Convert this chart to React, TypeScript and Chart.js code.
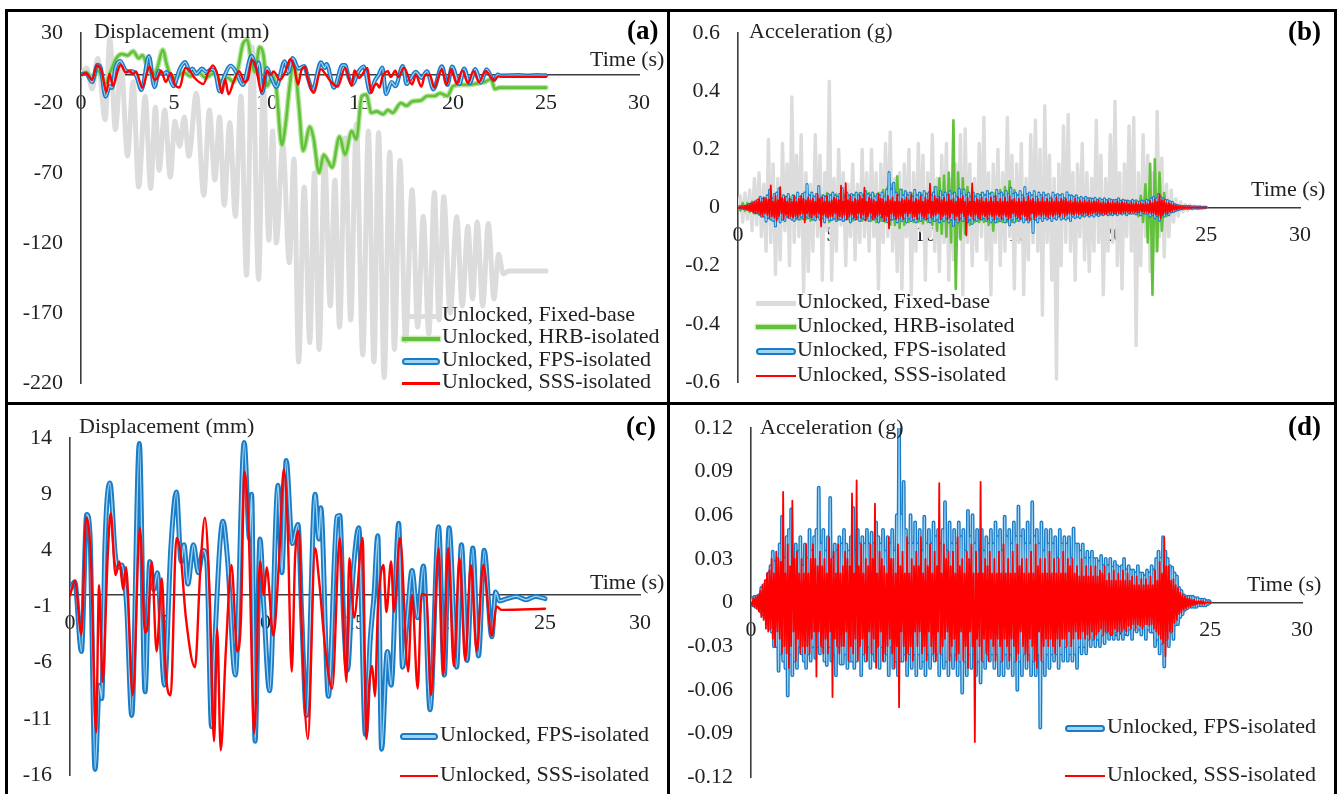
import React, { useEffect, useRef } from "react";
import { Chart, registerables } from "chart.js";

Chart.register(...registerables);

const FONT = "'Liberation Serif', 'Times New Roman', Times, serif";
const TXT = "#222222";
const AXIS = "#3c3c3c";

// ---------- tick labels ----------
const xTicks = [0, 5, 10, 15, 20, 25, 30];
const yTicksA = [-220, -170, -120, -70, -20, 30];
const yTicksB = [-0.6, -0.4, -0.2, 0, 0.2, 0.4, 0.6];
const yTicksC = [-16, -11, -6, -1, 4, 9, 14];
const yTicksD = [-0.12, -0.09, -0.06, -0.03, 0, 0.03, 0.06, 0.09, 0.12];

// ---------- displacement series [time s, mm] ----------
const fixedDisp = [
  [0, 0], [0.3, 5], [0.6, -10], [0.9, 12], [1.3, -32], [1.55, 26], [1.85, -39], [2.15, 10], [2.5, -58],
  [2.8, -5], [3.1, -80], [3.45, -15], [3.75, -81], [4.0, -23], [4.2, -68], [4.5, -25], [4.8, -73],
  [5.05, -33], [5.3, -51], [5.55, -30], [5.8, -58], [6.2, -13], [6.6, -86], [6.9, -25], [7.2, -75],
  [7.45, -30], [7.7, -93], [8.0, -34], [8.3, -101], [8.6, -15], [8.9, -143], [9.2, 20], [9.55, -146],
  [9.8, -5], [10.1, -118], [10.3, -40], [10.5, -120], [10.85, -50], [11.2, -134], [11.45, -60],
  [11.7, -205], [12.0, -80], [12.3, -191], [12.55, -70], [12.8, -196], [13.1, -60], [13.4, -165],
  [13.65, -75], [13.9, -180], [14.2, -45], [14.5, -175], [14.8, -35], [15.15, -200], [15.45, -40],
  [15.75, -205], [16.0, -41], [16.3, -216], [16.6, -55], [16.85, -196], [17.15, -61], [17.45, -190],
  [17.8, -82], [18.1, -180], [18.4, -101], [18.7, -185], [19.0, -84], [19.25, -175], [19.5, -87],
  [19.85, -170], [20.2, -101], [20.5, -165], [20.8, -108], [21.05, -160], [21.3, -105], [21.6, -165],
  [21.9, -106], [22.2, -160], [22.45, -128], [22.7, -142], [23.0, -140], [25.0, -140],
];

const hrbDisp = [
  [0, 0], [0.3, 2], [0.6, -3], [0.9, 3], [1.3, -6], [1.6, 3], [1.9, 12], [2.2, 15], [2.5, 14], [2.8, 17],
  [3.1, 12], [3.3, 14], [3.6, 5], [3.9, 0], [4.1, 5], [4.4, 18], [4.6, 8], [4.8, 0], [5.1, -2], [5.5, 2],
  [5.9, -1], [6.3, 2], [6.7, -2], [7.1, 1], [7.5, -4], [7.9, -2], [8.2, -5], [8.45, 5], [8.7, 22],
  [8.95, 25], [9.15, 10], [9.35, 2], [9.6, 20], [9.8, 15], [10.0, -8], [10.3, 0], [10.5, -10],
  [10.8, -50], [11.0, -35], [11.2, -10], [11.45, 10], [11.7, -20], [11.95, -54], [12.3, -37],
  [12.5, -45], [12.8, -70], [13.05, -57], [13.3, -62], [13.5, -66], [13.9, -44], [14.2, -57],
  [14.55, -40], [14.8, -46], [15.1, -15], [15.35, -14], [15.6, -27], [15.9, -26], [16.25, -28],
  [16.5, -25], [16.75, -27], [17.2, -20], [17.5, -22], [17.8, -19], [18.3, -18], [18.6, -15],
  [19.0, -15], [19.3, -13], [19.7, -15], [20.0, -8], [20.4, -7], [20.8, -7], [21.3, -6], [21.7, -5],
  [22.05, -3], [22.25, -10], [22.5, -9], [25.0, -9],
];

const fpsDisp = [
  [0, 0.5], [0.25, 1.2], [0.6, -5], [0.88, 7.2], [1.05, 5.5], [1.32, -15.5], [1.55, -8], [1.67, -9.2],
  [1.84, 4.5], [2.1, 10], [2.4, 3.3], [2.6, 2.5], [2.72, 2.7], [2.98, -0.9], [3.25, -10.7], [3.65, 13.5],
  [3.95, -8.6], [4.2, 3], [4.4, 0.5], [4.6, 2], [4.97, -8], [5.3, 4], [5.6, 9.2], [5.85, 3], [6.0, 4.5],
  [6.2, 1], [6.5, 4.5], [6.75, 2], [7.0, 4], [7.2, 3], [7.45, -11.7], [7.6, -5], [8.05, 6.6], [8.3, 3],
  [8.7, -7.1], [9.17, 13.6], [9.45, 5], [9.56, 9], [9.74, -13], [10.0, 5], [10.2, -1], [10.5, -8.5],
  [10.95, 9.8], [11.15, 2], [11.38, 12], [11.7, 4.6], [12.0, 6.3], [12.2, -2], [12.45, -10.7], [12.9, 9],
  [13.1, 5], [13.2, 7.8], [13.6, -9], [14.05, 7], [14.2, 7.1], [14.4, -2], [14.6, -6.7], [14.9, 2],
  [15.2, 6], [15.55, -12.4], [15.8, -4], [16.0, 0], [16.2, 5.3], [16.4, -13.7], [16.7, -5], [16.9, -8],
  [17.3, 6.4], [17.5, -6.4], [17.75, -2], [18.0, 2.2], [18.3, -2], [18.6, 2.6], [18.95, -10.2],
  [19.4, 6.1], [19.7, -7.1], [19.95, 6], [20.35, -6.4], [20.6, 4.5], [20.9, -5.8], [21.2, 4.2],
  [21.5, -5.4], [21.8, 4], [22.2, -3.7], [22.4, 0.3], [22.6, -0.5], [23.0, -0.3], [23.5, -0.1],
  [24.0, -0.4], [24.5, -0.1], [25.0, -0.3],
];

const sssDisp = [
  [0, 0], [0.26, 1.3], [0.6, -3.5], [0.85, 6.9], [1.1, 3.3], [1.37, -12.2], [1.53, 0.9], [1.72, -7.7],
  [1.98, 3.3], [2.14, 7.3], [2.4, 1.8], [2.6, 3], [2.8, 0.5], [2.95, 2.5], [3.3, -8.9], [3.68, 6],
  [3.95, -3.3], [4.1, -2.5], [4.3, 3], [4.56, -5], [4.83, 1.5], [5.05, -7.1], [5.3, -8.9], [5.6, 5.1],
  [5.8, 4], [6.1, -2], [6.58, -6.4], [6.85, 2], [7.1, 6.9], [7.35, 0], [7.58, -13], [7.75, -3],
  [7.93, -13.8], [8.2, -5], [8.5, 2.7], [8.8, -5], [9.0, -2], [9.18, 11], [9.4, 6], [9.7, -12.3],
  [10.0, 3], [10.2, 0], [10.35, 2.5], [10.7, -3.6], [11.0, 3], [11.25, 11.2], [11.45, 6.3], [11.67, -6.8],
  [11.85, 3.5], [12.05, 5.7], [12.2, -3], [12.52, -12.8], [12.9, 4.2], [13.1, 1.5], [13.45, -5],
  [13.8, -8.3], [14.2, 5.1], [14.55, -7.7], [14.7, 3.3], [14.95, -2], [15.4, 5.1], [15.6, -12.8],
  [15.75, -8], [15.9, -6.3], [16.05, -9], [16.2, -1.5], [16.5, 2.7], [16.65, -1.5], [16.9, 3],
  [17.05, -1.5], [17.37, 5.1], [17.8, -6.8], [18.0, 0], [18.3, -8.3], [18.5, 0.1], [18.75, 0],
  [19.0, -8.9], [19.4, 4.2], [19.65, -7.1], [19.9, 4.2], [20.2, -6.3], [20.5, 3.3], [20.8, -5.8],
  [21.1, 2.7], [21.4, -5], [21.75, 2.7], [22.2, -3.6], [22.45, -1], [22.7, -1.3], [25.0, -1.2],
];

// ---------- acceleration series (g) ----------
// fixed-base and HRB: one value every 0.125 s (8 per row = 1 s)
const DT_COARSE = 0.125;
const fixedAcc = [
  0, 0.04, -0.05, 0.05, -0.04, 0.06, -0.08, 0.1,
  -0.06, 0.12, -0.1, 0.08, -0.15, 0.234, -0.12, 0.15,
  -0.23, 0.1, -0.18, 0.22, -0.08, 0.15, -0.2, 0.38,
  -0.12, 0.18, -0.1, 0.25, -0.29, 0.12, -0.22, 0.08,
  -0.15, 0.25, -0.1, 0.18, -0.25, 0.12, -0.08, 0.434,
  -0.25, 0.1, -0.15, 0.2, -0.06, 0.12, -0.2, 0.08,
  -0.1, 0.15, -0.18, 0.08, -0.12, 0.2, -0.1, 0.12,
  -0.15, 0.2, -0.1, 0.12, -0.28, 0.15, -0.12, 0.22,
  -0.1, 0.26, -0.15, 0.1, -0.22, 0.12, -0.28, 0.15,
  -0.1, 0.2, -0.3, 0.12, -0.15, 0.22, -0.08, 0.18,
  -0.25, 0.12, -0.1, 0.25, -0.15, 0.1, -0.22, 0.18,
  -0.12, 0.22, -0.25, 0.1, -0.18, 0.15, -0.1, 0.25,
  -0.3, 0.27, -0.12, 0.15, -0.2, 0.1, -0.15, 0.22,
  -0.1, 0.31, -0.18, 0.12, -0.3, 0.15, -0.12, 0.2,
  -0.2, 0.12, -0.15, 0.31, -0.1, 0.18, -0.28, 0.15,
  -0.12, 0.22, -0.3, 0.1, -0.18, 0.25, -0.12, 0.3,
  -0.15, 0.2, -0.37, 0.35, -0.12, 0.18, -0.25, 0.1,
  -0.59, 0.15, -0.2, 0.28, -0.12, 0.32, -0.15, 0.12,
  -0.25, 0.15, -0.1, 0.22, -0.18, 0.12, -0.22, 0.1,
  -0.15, 0.3, -0.12, 0.18, -0.3, 0.1, -0.15, 0.25,
  -0.12, 0.365, -0.2, 0.12, -0.28, 0.15, -0.1, 0.28,
  -0.15, 0.31, -0.475, 0.12, -0.2, 0.25, -0.1, 0.18,
  -0.22, 0.12, -0.15, 0.33, -0.1, 0.17, -0.17, 0.08,
  -0.1, 0.06, -0.05, 0.03, -0.03, 0.02, -0.015, 0.01,
  -0.01, 0.008, -0.006, 0.005, -0.004, 0.003, -0.002, 0.001,
  0,
];

const hrbAcc = [
  0, -0.01, 0.015, -0.012, 0.015, -0.015, 0.02, -0.02,
  0.025, -0.025, 0.03, -0.03, 0.03, -0.035, 0.035, -0.03,
  0.035, -0.035, 0.03, -0.035, 0.035, -0.03, 0.035, -0.035,
  0.04, -0.04, 0.035, -0.04, 0.045, -0.04, 0.04, -0.045,
  0.04, -0.04, 0.045, -0.04, 0.04, -0.045, 0.05, -0.05,
  0.045, -0.04, 0.045, -0.04, 0.04, -0.045, 0.045, -0.04,
  0.04, -0.045, 0.045, -0.04, 0.05, -0.045, 0.045, -0.04,
  0.05, -0.045, 0.045, -0.05, 0.05, -0.045, 0.06, -0.05,
  0.07, -0.06, 0.08, -0.06, 0.107, -0.07, 0.06, -0.06,
  0.05, -0.05, 0.05, -0.05, 0.045, -0.05, 0.05, -0.055,
  0.05, -0.05, 0.055, -0.06, 0.07, -0.08, 0.1, -0.09,
  0.11, -0.1, 0.12, -0.12, 0.3, -0.28, 0.12, -0.11,
  0.1, -0.09, 0.07, -0.06, 0.05, -0.05, 0.045, -0.05,
  0.05, -0.05, 0.045, -0.06, 0.05, -0.08, 0.05, -0.05,
  0.06, -0.05, 0.07, -0.05, 0.09, -0.05, 0.06, -0.045,
  0.045, -0.04, 0.04, -0.04, 0.045, -0.04, 0.04, -0.04,
  0.035, -0.035, 0.035, -0.035, 0.035, -0.03, 0.035, -0.035,
  0.03, -0.03, 0.035, -0.03, 0.03, -0.03, 0.03, -0.03,
  0.03, -0.025, 0.03, -0.03, 0.025, -0.025, 0.03, -0.025,
  0.025, -0.025, 0.025, -0.025, 0.025, -0.02, 0.025, -0.025,
  0.02, -0.02, 0.025, -0.02, 0.02, -0.02, 0.02, -0.02,
  0.02, -0.02, 0.025, -0.03, 0.04, -0.05, 0.08, -0.12,
  0.15, -0.3, 0.166, -0.15, 0.12, -0.08, 0.05, -0.03,
  0.02, -0.015, 0.01, -0.008, 0.005, -0.004, 0.003, -0.002,
  0.002, -0.001, 0.001, 0, 0, 0, 0, 0,
  0,
];

// FPS and SSS: one value every 0.0625 s (16 per row = 1 s)
const DT_FINE = 0.0625;
const fpsAcc = [
  0, .003, -.002, .004, -.003, .004, -.004, .005, -.006, .01, -.008, .012, -.01, .015, -.014, .02,
  -.018, .025, -.02, .035, -.03, .028, -.03, .03, -.047, .04, -.035, .059, -.04, .03, -.045, .045,
  -.064, .05, -.035, .064, -.05, .03, -.04, .04, -.045, .035, -.03, .045, -.035, .025, -.04, .04,
  -.045, .03, -.035, .05, -.04, .035, -.03, .045, -.038, .05, -.03, .079, -.035, .04, -.03, .05,
  -.04, .035, -.043, .045, -.03, .072, -.04, .03, -.035, .04, -.05, .035, -.03, .045, -.042, .04,
  -.042, .05, -.035, .04, -.045, .035, -.04, .045, -.04, .065, -.045, .035, -.04, .05, -.03, .04,
  -.05, .045, -.035, .04, -.04, .05, -.03, .04, -.045, .048, -.035, .04, -.04, .055, -.03, .045,
  -.045, .04, -.03, .05, -.04, .035, -.035, .045, -.05, .04, -.03, .05, -.045, .035, -.04, .06,
  -.05, .12, -.04, .06, -.04, .083, -.035, .05, -.05, .04, -.035, .06, -.045, .04, -.035, .055,
  -.05, .04, -.035, .05, -.045, .035, -.04, .059, -.05, .04, -.035, .05, -.045, .04, -.035, .055,
  -.04, .045, -.035, .05, -.05, .04, -.035, .05, -.045, .069, -.04, .035, -.05, .055, -.035, .04,
  -.045, .05, -.035, .04, -.05, .055, -.04, .045, -.062, .05, -.04, .035, -.05, .063, -.035, .045,
  -.045, .06, -.035, .04, -.05, .05, -.04, .035, -.055, .05, -.04, .035, -.045, .045, -.035, .04,
  -.04, .05, -.035, .04, -.045, .055, -.035, .045, -.05, .05, -.04, .035, -.05, .059, -.035, .045,
  -.045, .05, -.035, .04, -.05, .055, -.04, .045, -.06, .066, -.04, .045, -.05, .05, -.035, .04,
  -.045, .055, -.035, .04, -.05, .069, -.04, .045, -.05, .05, -.035, .04, -.086, .055, -.04, .035,
  -.05, .05, -.035, .04, -.045, .05, -.035, .04, -.04, .045, -.035, .03, -.045, .05, -.035, .04,
  -.04, .045, -.03, .04, -.04, .045, -.035, .03, -.04, .051, -.035, .04, -.045, .04, -.03, .035,
  -.035, .04, -.03, .03, -.035, .035, -.025, .03, -.03, .035, -.025, .03, -.03, .03, -.025, .028,
  -.03, .032, -.022, .025, -.028, .03, -.02, .025, -.025, .03, -.02, .024, -.025, .028, -.02, .025,
  -.025, .024, -.02, .025, -.025, .03, -.018, .022, -.022, .025, -.018, .022, -.025, .022, -.018, .02,
  -.02, .025, -.018, .02, -.022, .02, -.015, .018, -.025, .022, -.018, .02, -.02, .025, -.02, .022,
  -.03, .03, -.025, .035, -.035, .03, -.028, .045, -.044, .035, -.025, .03, -.03, .025, -.02, .024,
  -.025, .02, -.015, .018, -.015, .01, -.01, .008, -.008, .005, -.005, .004, -.004, .004, -.003, .004,
  -.003, .004, -.003, .003, -.003, .003, -.002, .002, -.002, .002, -.002, .002, -.002, .001, -.001, .001,
  0,
];

const sssAcc = [
  0, -.002, .003, -.003, .004, -.004, .005, -.006, .008, -.01, .012, -.012, .015, -.018, .02, -.02,
  .022, -.018, .03, -.025, .02, -.03, .035, -.02, .03, -.025, .028, -.035, .076, -.03, .02, -.035,
  .04, -.045, .025, -.03, .07, -.02, .03, -.04, .035, -.025, .02, -.035, .03, -.03, .02, -.035,
  .04, -.03, .02, -.035, .03, -.025, .04, -.02, .03, -.051, .025, -.02, .035, -.03, .025, -.035,
  .03, -.025, .02, -.035, .045, -.02, .03, -.065, .035, -.025, .02, -.03, .04, -.035, .02, -.03,
  .025, -.03, .035, -.02, .03, -.04, .025, -.03, .075, -.035, .02, -.025, .084, -.04, .025, -.03,
  .04, -.025, .02, -.035, .03, -.04, .025, -.02, .04, -.035, .03, -.025, .068, -.045, .02, -.03,
  .035, -.02, .03, -.04, .025, -.035, .02, -.03, .045, -.025, .03, -.035, .03, -.045, .02, -.03,
  .04, -.072, .025, -.02, .035, -.03, .02, -.04, .045, -.035, .02, -.03, .03, -.04, .025, -.02,
  .035, -.03, .025, -.02, .045, -.035, .02, -.03, .03, -.04, .025, -.02, .04, -.03, .02, -.035,
  .035, -.04, .025, -.02, .082, -.035, .02, -.03, .04, -.025, .03, -.02, .035, -.04, .025, -.03,
  .035, -.025, .02, -.04, .045, -.035, .025, -.02, .03, -.04, .02, -.03, .035, -.045, .03, -.02,
  .04, -.03, .02, -.096, .035, -.025, .02, -.03, .083, -.04, .02, -.025, .03, -.035, .025, -.04,
  .035, -.025, .02, -.03, .03, -.04, .02, -.025, .035, -.03, .02, -.04, .04, -.025, .02, -.03,
  .03, -.04, .02, -.025, .035, -.03, .02, -.04, .04, -.035, .025, -.02, .03, -.03, .02, -.035,
  .03, -.04, .02, -.025, .035, -.03, .02, -.04, .04, -.045, .025, -.02, .03, -.04, .02, -.03,
  .03, -.025, .02, -.03, .035, -.025, .02, -.03, .03, -.035, .02, -.025, .03, -.03, .02, -.025,
  .035, -.025, .02, -.03, .03, -.02, .025, -.03, .03, -.025, .02, -.02, .025, -.025, .018, -.025,
  .03, -.02, .018, -.025, .025, -.022, .018, -.025, .025, -.02, .018, -.025, .025, -.022, .018, -.02,
  .022, -.018, .02, -.022, .025, -.02, .015, -.02, .02, -.022, .015, -.022, .022, -.018, .015, -.02,
  .02, -.02, .015, -.02, .022, -.018, .015, -.02, .02, -.016, .015, -.018, .018, -.015, .012, -.018,
  .018, -.015, .012, -.016, .016, -.018, .012, -.015, .016, -.015, .012, -.016, .018, -.015, .012, -.018,
  .022, -.02, .015, -.022, .028, -.025, .02, -.028, .045, -.037, .025, -.025, .025, -.02, .015, -.02,
  .016, -.014, .012, -.012, .01, -.008, .007, -.007, .005, -.005, .004, -.004, .003, -.003, .003, -.003,
  .002, -.002, .002, -.002, .001, -.001, .001, -.001, .001, -.001, .001, -.001, 0, 0, 0, 0,
  0,
];

// ---------- styles ----------
const C_GRAY = "#dcdcdc";
const C_GREEN = "#62c13b";
const C_GREEN_GLOW = "#b3e39a";
const C_BLUE = "#1a7cc6";
const C_BLUE_IN = "#9fd4f3";
const C_RED = "#ff0000";

const pairsXY = (p: number[][]) => p.map(([x, y]) => ({ x, y }));
const stepXY = (v: number[], dt: number) => v.map((y, i) => ({ x: i * dt, y }));

function line(data: any[], color: string, width: number, order: number, smooth: boolean) {
  return {
    data,
    borderColor: color,
    backgroundColor: color,
    borderWidth: width,
    pointRadius: 0,
    fill: false,
    order,
    borderJoinStyle: "round" as const,
    borderCapStyle: "round" as const,
    cubicInterpolationMode: smooth ? ("monotone" as const) : ("default" as const),
    tension: 0,
  };
}

type PanelSpec = {
  left: number; top: number; width: number; height: number;
  yMin: number; yMax: number; yTicks: number[];
  yWidth: number; pad: { left: number; right: number; top: number; bottom: number };
  datasets: any[];
};

function ChartPanel({ spec }: { spec: PanelSpec }) {
  const ref = useRef<HTMLCanvasElement | null>(null);
  useEffect(() => {
    if (!ref.current) return;
    const tickFont = { family: FONT, size: 22 };
    const chart = new Chart(ref.current, {
      type: "line",
      data: { datasets: spec.datasets },
      options: {
        animation: false,
        responsive: false,
        maintainAspectRatio: false,
        events: [],
        layout: { padding: spec.pad },
        plugins: { legend: { display: false }, tooltip: { enabled: false } },
        scales: {
          x: {
            type: "linear",
            min: 0,
            max: 30,
            position: { y: 0 } as any,
            grid: { display: false, drawTicks: false },
            border: { display: true, color: AXIS, width: 1.6 },
            afterBuildTicks: (s: any) => { s.ticks = xTicks.map((v) => ({ value: v })); },
            afterFit: (s: any) => { s.paddingLeft = 0; s.paddingRight = 0; },
            ticks: {
              color: TXT, font: tickFont, padding: 15, maxRotation: 0, autoSkip: false,
              callback: (v: any) => String(v),
            },
          },
          y: {
            type: "linear",
            position: "left",
            min: spec.yMin,
            max: spec.yMax,
            afterFit: (s: any) => { s.width = spec.yWidth; s.paddingTop = 0; s.paddingBottom = 0; },
            afterBuildTicks: (s: any) => { s.ticks = spec.yTicks.map((v) => ({ value: v })); },
            grid: { display: false, drawTicks: false },
            border: { display: true, color: AXIS, width: 1.6 },
            ticks: {
              color: TXT, font: tickFont, padding: 18, autoSkip: false,
              callback: (v: any) => String(Math.round(Number(v) * 1000) / 1000),
            },
          },
        },
      } as any,
    });
    return () => chart.destroy();
  }, [spec]);
  return (
    <canvas
      ref={ref}
      width={spec.width}
      height={spec.height}
      style={{ position: "absolute", left: spec.left, top: spec.top, width: spec.width, height: spec.height }}
    />
  );
}

const specA: PanelSpec = {
  left: 8, top: 12, width: 659, height: 389,
  yMin: -220, yMax: 30, yTicks: yTicksA, yWidth: 73,
  pad: { left: 0, right: 28, top: 21, bottom: 18 },
  datasets: [
    line(pairsXY(sssDisp), C_RED, 2.4, 0, true),
    line(pairsXY(fpsDisp), C_BLUE_IN, 1.3, 1, true),
    line(pairsXY(fpsDisp), C_BLUE, 4.2, 2, true),
    line(pairsXY(hrbDisp), C_GREEN, 2.6, 3, true),
    line(pairsXY(hrbDisp), C_GREEN_GLOW, 5.2, 4, true),
    line(pairsXY(fixedDisp), C_GRAY, 5, 5, true),
  ],
};

const specB: PanelSpec = {
  left: 670, top: 12, width: 664, height: 389,
  yMin: -0.6, yMax: 0.6, yTicks: yTicksB, yWidth: 68,
  pad: { left: 0, right: 34, top: 21, bottom: 19 },
  datasets: [
    line(stepXY(sssAcc, DT_FINE), C_RED, 1.8, 0, false),
    line(stepXY(fpsAcc, DT_FINE), C_BLUE_IN, 0.9, 1, false),
    line(stepXY(fpsAcc, DT_FINE), C_BLUE, 3.0, 2, false),
    line(stepXY(hrbAcc, DT_COARSE), C_GREEN, 2.6, 3, false),
    line(stepXY(fixedAcc, DT_COARSE), C_GRAY, 3.4, 5, false),
  ],
};

const specC: PanelSpec = {
  left: 8, top: 405, width: 659, height: 389,
  yMin: -16, yMax: 14, yTicks: yTicksC, yWidth: 62,
  pad: { left: 0, right: 27, top: 33, bottom: 19 },
  datasets: [
    line(pairsXY(sssDisp), C_RED, 2.4, 0, true),
    line(pairsXY(fpsDisp), C_BLUE_IN, 1.4, 1, true),
    line(pairsXY(fpsDisp), C_BLUE, 5.0, 2, true),
  ],
};

const specD: PanelSpec = {
  left: 670, top: 405, width: 664, height: 389,
  yMin: -0.12, yMax: 0.12, yTicks: yTicksD, yWidth: 81,
  pad: { left: 0, right: 32, top: 23, bottom: 17 },
  datasets: [
    line(stepXY(sssAcc, DT_FINE), C_RED, 1.8, 0, false),
    line(stepXY(fpsAcc, DT_FINE), C_BLUE_IN, 1.1, 1, false),
    line(stepXY(fpsAcc, DT_FINE), C_BLUE, 3.8, 2, false),
  ],
};

function Label({ text, left, cy, size = 22, bold = false }: { text: string; left: number; cy: number; size?: number; bold?: boolean }) {
  return (
    <div
      style={{
        position: "absolute", left, top: cy - size * 0.55, fontFamily: FONT, fontSize: size,
        lineHeight: `${size}px`, color: bold ? "#000" : TXT, fontWeight: bold ? 700 : 400, whiteSpace: "nowrap",
      }}
    >
      {text}
    </div>
  );
}

type Kind = "gray" | "green" | "blue" | "red";

function Sample({ kind, left, cy, width }: { kind: Kind; left: number; cy: number; width: number }) {
  const base: React.CSSProperties = { position: "absolute", left, width };
  if (kind === "gray") return <div style={{ ...base, top: cy - 2.5, height: 5, background: C_GRAY }} />;
  if (kind === "green")
    return <div style={{ ...base, top: cy - 2, height: 4, background: C_GREEN, boxShadow: `0 0 2px 1px ${C_GREEN_GLOW}` }} />;
  if (kind === "red") return <div style={{ ...base, top: cy - 1.25, height: 2.5, background: C_RED }} />;
  return (
    <div
      style={{
        ...base, top: cy - 3.5, height: 7, boxSizing: "border-box", border: `2px solid ${C_BLUE}`,
        borderRadius: 4, background: C_BLUE_IN,
      }}
    />
  );
}

function Legend({ items, textLeft, sampleLeft, sampleWidth, rows }: { items: [Kind, string][]; textLeft: number; sampleLeft: number; sampleWidth: number; rows: number[] }) {
  return (
    <>
      {items.map(([k, t], i) => (
        <React.Fragment key={t}>
          <Sample kind={k} left={sampleLeft} cy={rows[i] + 1} width={sampleWidth} />
          <Label text={t} left={textLeft} cy={rows[i]} />
        </React.Fragment>
      ))}
    </>
  );
}

const legendAll: [Kind, string][] = [
  ["gray", "Unlocked, Fixed-base"],
  ["green", "Unlocked, HRB-isolated"],
  ["blue", "Unlocked, FPS-isolated"],
  ["red", "Unlocked, SSS-isolated"],
];
const legendTwo: [Kind, string][] = [
  ["blue", "Unlocked, FPS-isolated"],
  ["red", "Unlocked, SSS-isolated"],
];

export default function App() {
  return (
    <div style={{ position: "absolute", left: 0, top: 0, width: 1338, height: 794, background: "#fff", overflow: "hidden" }}>
      <ChartPanel spec={specA} />
      <ChartPanel spec={specB} />
      <ChartPanel spec={specC} />
      <ChartPanel spec={specD} />

      {/* frame */}
      <div style={{ position: "absolute", left: 5, top: 9, width: 1332, height: 790, border: "3px solid #000", boxSizing: "border-box" }} />
      <div style={{ position: "absolute", left: 667, top: 9, width: 3, height: 790, background: "#000" }} />
      <div style={{ position: "absolute", left: 5, top: 402, width: 1332, height: 3, background: "#000" }} />

      {/* panel (a) */}
      <Label text="Displacement (mm)" left={94} cy={32} />
      <Label text="Time (s)" left={590} cy={60} />
      <Label text="(a)" left={627} cy={32} size={27} bold />
      <Legend items={legendAll} textLeft={442} sampleLeft={402} sampleWidth={38} rows={[315, 337.5, 360, 382.5]} />

      {/* panel (b) */}
      <Label text="Acceleration (g)" left={749} cy={32} />
      <Label text="Time (s)" left={1251} cy={190} />
      <Label text="(b)" left={1288} cy={33} size={27} bold />
      <Legend items={legendAll} textLeft={797} sampleLeft={756} sampleWidth={40} rows={[302, 326, 350, 375]} />

      {/* panel (c) */}
      <Label text="Displacement (mm)" left={79} cy={427} />
      <Label text="Time (s)" left={590} cy={583} />
      <Label text="(c)" left={626} cy={428} size={27} bold />
      <Legend items={legendTwo} textLeft={440} sampleLeft={400} sampleWidth={38} rows={[735, 775]} />

      {/* panel (d) */}
      <Label text="Acceleration (g)" left={760} cy={428} />
      <Label text="Time (s)" left={1247} cy={585} />
      <Label text="(d)" left={1288} cy={428} size={27} bold />
      <Legend items={legendTwo} textLeft={1107} sampleLeft={1065} sampleWidth={40} rows={[727, 775]} />
    </div>
  );
}
